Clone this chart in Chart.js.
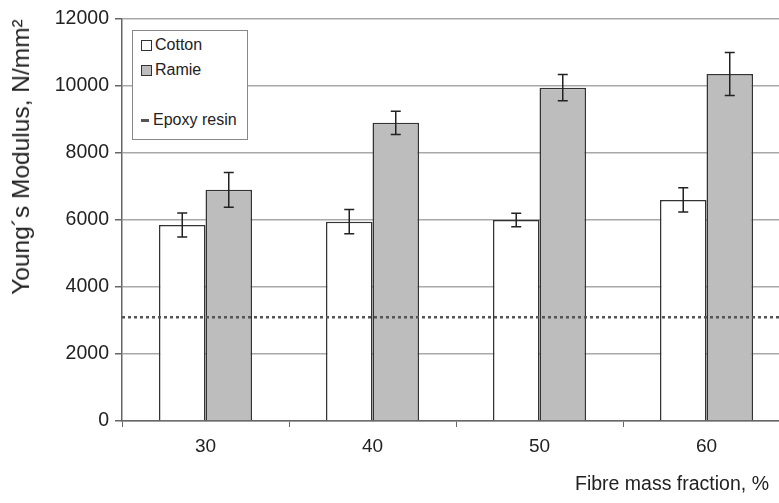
<!DOCTYPE html>
<html>
<head>
<meta charset="utf-8">
<script src="https://cdn.jsdelivr.net/npm/chart.js@4"></script>
<style>
  body { margin: 0; background: #fff; font-family: "Liberation Sans", Arial, sans-serif; }
  #wrap { position: relative; width: 779px; height: 503px; overflow: hidden; }
  #cv { position: absolute; left: 0; top: 0; }
  .legend { position: absolute; left: 132px; top: 30px; width: 114px; height: 108px; border: 1px solid #888; background: #fff; font-size: 16px; color: #222; }
  .legend .row { position: absolute; left: 8px; display: flex; align-items: center; }
  .legend .sw { width: 9px; height: 9px; border: 1px solid #333; margin-right: 3px; }
  .legend .dash { width: 8px; height: 3px; background: #555; margin-right: 4px; }
  .ytitle { position: absolute; left: 21px; top: 157px; transform: translate(-50%, -50%) rotate(-90deg); font-size: 24.5px; color: #222; white-space: nowrap; }
  .xtitle { position: absolute; right: 10px; top: 472px; font-size: 19.5px; color: #222; white-space: nowrap; }
</style>
</head>
<body>
<div id="wrap">
  <canvas id="cv" width="800" height="503" style="width:800px;height:503px"></canvas>
  <div class="legend">
    <div class="row" style="top:5px"><span class="sw" style="background:#fff"></span>Cotton</div>
    <div class="row" style="top:30px"><span class="sw" style="background:#bdbdbd"></span>Ramie</div>
    <div class="row" style="top:80px"><span class="dash"></span>Epoxy resin</div>
  </div>
  <div class="ytitle">Young´s Modulus, N/mm²</div>
  <div class="xtitle">Fibre mass fraction, %</div>
</div>
<script>
// values
const fractions = ['30', '40', '50', '60'];
const cotton = [5850, 5950, 6000, 6600];
const cottonErr = [360, 360, 200, 360];
const ramie = [6900, 8900, 9950, 10360];
const ramieErr = [520, 350, 390, 640];
const epoxyResin = 3100;
const yTicks = [0, 2000, 4000, 6000, 8000, 10000, 12000];

const errorBars = {
    id: 'errorBars',
    afterDatasetsDraw(chart) {
        const ctx = chart.ctx;
        const y = chart.scales.y;
        const errs = [cottonErr, ramieErr];
        ctx.save();
        ctx.strokeStyle = '#222';
        ctx.lineWidth = 1.5;
        chart.data.datasets.forEach((ds, i) => {
            chart.getDatasetMeta(i).data.forEach((bar, j) => {
                const v = ds.data[j];
                const top = y.getPixelForValue(v + errs[i][j]);
                const bot = y.getPixelForValue(v - errs[i][j]);
                ctx.beginPath();
                ctx.moveTo(bar.x, top); ctx.lineTo(bar.x, bot);
                ctx.moveTo(bar.x - 5, top); ctx.lineTo(bar.x + 5, top);
                ctx.moveTo(bar.x - 5, bot); ctx.lineTo(bar.x + 5, bot);
                ctx.stroke();
            });
        });
        // epoxy resin reference line
        const ey = y.getPixelForValue(epoxyResin);
        const area = chart.chartArea;
        ctx.strokeStyle = '#555';
        ctx.lineWidth = 2.5;
        ctx.setLineDash([3, 3]);
        ctx.beginPath();
        ctx.moveTo(area.left, ey);
        ctx.lineTo(area.right, ey);
        ctx.stroke();
        ctx.restore();
    }
};

new Chart(document.getElementById('cv'), {
    type: 'bar',
    data: {
        labels: fractions,
        datasets: [
            { label: 'Cotton', data: cotton, backgroundColor: '#ffffff', borderColor: '#333', borderWidth: 1.5 },
            { label: 'Ramie', data: ramie, backgroundColor: '#bdbdbd', borderColor: '#333', borderWidth: 1.5 }
        ]
    },
    options: {
        responsive: false,
        animation: false,
        layout: { padding: { top: 19, right: 10, left: 0, bottom: 0 } },
        categoryPercentage: 0.557,
        barPercentage: 1,
        plugins: { legend: { display: false }, tooltip: { enabled: false } },
        scales: {
            x: {
                afterFit: s => { s.height = 82; },
                grid: { drawOnChartArea: false, drawTicks: true, tickLength: 6, color: '#666' },
                border: { color: '#666', width: 1.5 },
                ticks: { color: '#222', font: { family: 'Liberation Sans', size: 19 }, padding: 8 }
            },
            y: {
                min: 0, max: 12000,
                afterFit: s => { s.width = 122; },
                afterBuildTicks: s => { s.ticks = yTicks.map(v => ({ value: v })); },
                grid: { color: '#a8a8a8', lineWidth: 1.5, tickLength: 7, tickColor: '#666' },
                border: { color: '#666', width: 1.5 },
                ticks: { color: '#222', font: { family: 'Liberation Sans', size: 19.5 }, padding: 6, callback: v => String(v) }
            }
        }
    },
    plugins: [errorBars]
});
</script>
</body>
</html>
